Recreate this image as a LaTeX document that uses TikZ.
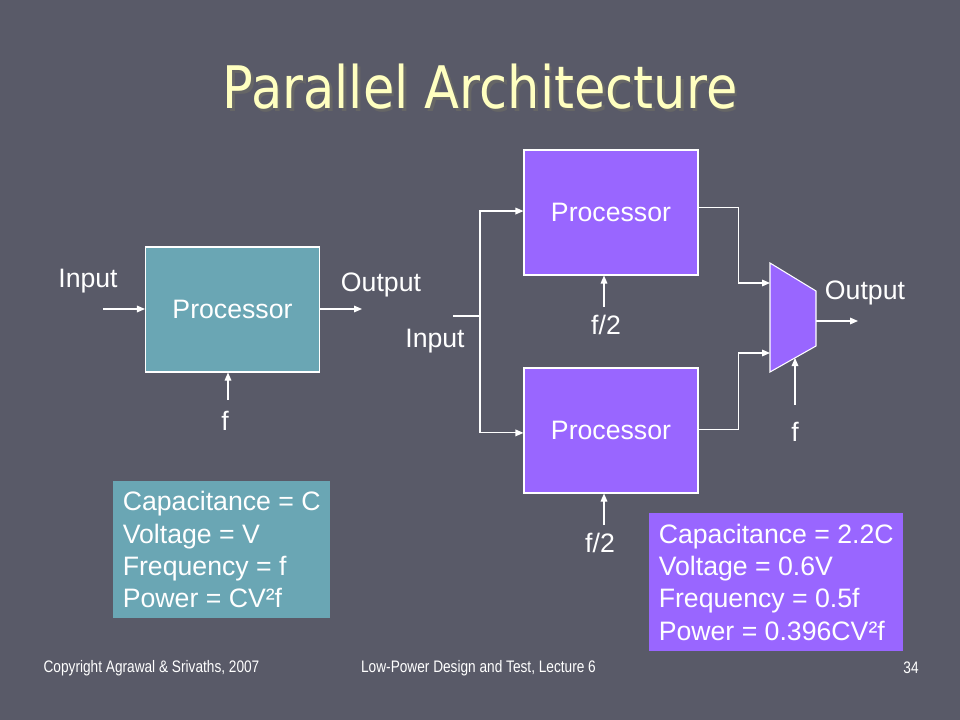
\documentclass[tikz,border=0pt]{standalone}
\usepackage{fontspec}
\setmainfont{Liberation Sans}
\newfontfamily\footfont[FakeStretch=0.82]{Liberation Sans}
\newfontfamily\titlefont[FakeStretch=0.87]{DejaVu Sans}
\usetikzlibrary{arrows.meta, positioning, calc}
\definecolor{slidebg}{HTML}{595A68}
\definecolor{tealbox}{HTML}{6AA6B4}
\definecolor{violetbox}{HTML}{9966FF}
\definecolor{titleyellow}{HTML}{FFFFC0}

\begin{document}
\begin{tikzpicture}[
    x=0.75pt, y=-0.75pt,
    proc/.style={draw=white, line width=0.8pt, minimum width=130.5pt, minimum height=93.75pt,
                 text=white, font=\fontsize{20}{24}\selectfont},
    lbl/.style={text=white, inner sep=0pt, font=\fontsize{20}{24}\selectfont},
    info/.style={align=left, text=white, inner xsep=7pt, font=\fontsize{20}{24.2}\selectfont},
    foot/.style={text=white, inner sep=0pt, font=\footfont\fontsize{12.5}{14}\selectfont},
    wire/.style={white, line width=0.8pt},
    arr/.style={wire, -{Triangle[length=6pt, width=5pt]}},
]
\useasboundingbox (0,0) rectangle (960,720);
\fill[slidebg] (0,0) rectangle (960,720);

% title, with its drop shadow
\node[text=titleyellow, font=\titlefont\fontsize{44}{50}\selectfont] (title) at (480,88)
    {\rlap{\kern2pt\raisebox{-2pt}{\textcolor{black!60}{Parallel Architecture}}}Parallel Architecture};

% single processor
\node[proc, fill=tealbox] (procL) at (232.5,309.5) {Processor};
\coordinate (inL) at (103,309);
\coordinate (outL) at (362,309);
\coordinate (fL) at (228,400);
\node[lbl] (inLbl) at (88,281) {Input};
\node[lbl] (outLbl) at (381,285) {Output};
\node[lbl] (fLbl) at (225,421) {f};
\draw[arr] (inL) -- (inL -| procL.west);
\draw[arr] (outL -| procL.east) -- (outL);
\draw[arr] (fL) -- (fL |- procL.south);

% parallel processors
\node[proc, fill=violetbox] (procA) at (611,212.5) {Processor};
\node[proc, fill=violetbox] (procB) at (611,430.5) {Processor};
\coordinate (inR) at (453,316);
\coordinate (split) at (480,316);
\node[lbl] (inRLbl) at (435,341) {Input};
\draw[wire] (inR) -- (split);
\draw[arr] (split) |- ([yshift=1.1pt]procA.west);
\draw[arr] (split) |- ([yshift=-1.8pt]procB.west);

\coordinate (fA) at (604,307);
\coordinate (fB) at (604,525);
\node[lbl] (fALbl) at (606,325) {f/2};
\node[lbl] (fBLbl) at (600,543) {f/2};
\draw[arr] (fA) -- (fA |- procA.south);
\draw[arr] (fB) -- (fB |- procB.south);

% multiplexer
\coordinate (m1) at (770,263);
\coordinate (m2) at (816,291);
\coordinate (m3) at (816,346);
\coordinate (m4) at (770,372);
\filldraw[fill=violetbox, draw=white, line width=0.8pt] (m1) -- (m2) -- (m3) -- (m4) -- cycle;
\coordinate (muxA) at (770,283);
\coordinate (muxB) at (770,353);
\coordinate (muxOut) at (816,321);
\coordinate (outR) at (858,321);
\coordinate (sel) at (795,405);
\coordinate (selTip) at (795,358);
\draw[arr] ([yshift=4pt]procA.east) -- ++(40,0) |- (muxA);
\draw[arr] ([yshift=1pt]procB.east) -- ++(40,0) |- (muxB);
\draw[arr] (muxOut) -- (outR);
\draw[arr] (sel) -- (selTip);
\node[lbl] (outRLbl) at (865,293) {Output};
\node[lbl] (selLbl) at (795,432) {f};

% figures of merit
\node[info, fill=tealbox, anchor=north west, minimum width=162.75pt, minimum height=102.75pt]
    (infoL) at (113,481) {Capacitance = C\\Voltage = V\\Frequency = f\\Power = CV²f};
\node[info, fill=violetbox, anchor=north west, minimum width=190.5pt, minimum height=103.5pt]
    (infoR) at (649,513) {Capacitance = 2.2C\\Voltage = 0.6V\\Frequency = 0.5f\\Power = 0.396CV²f};

% footer
\node[foot] (copy) at (151.5,668) {Copyright Agrawal \& Srivaths, 2007};
\node[foot] (course) at (478.5,668) {Low-Power Design and Test, Lecture 6};
\node[foot] (page) at (911,668) {34};
\end{tikzpicture}
\end{document}
